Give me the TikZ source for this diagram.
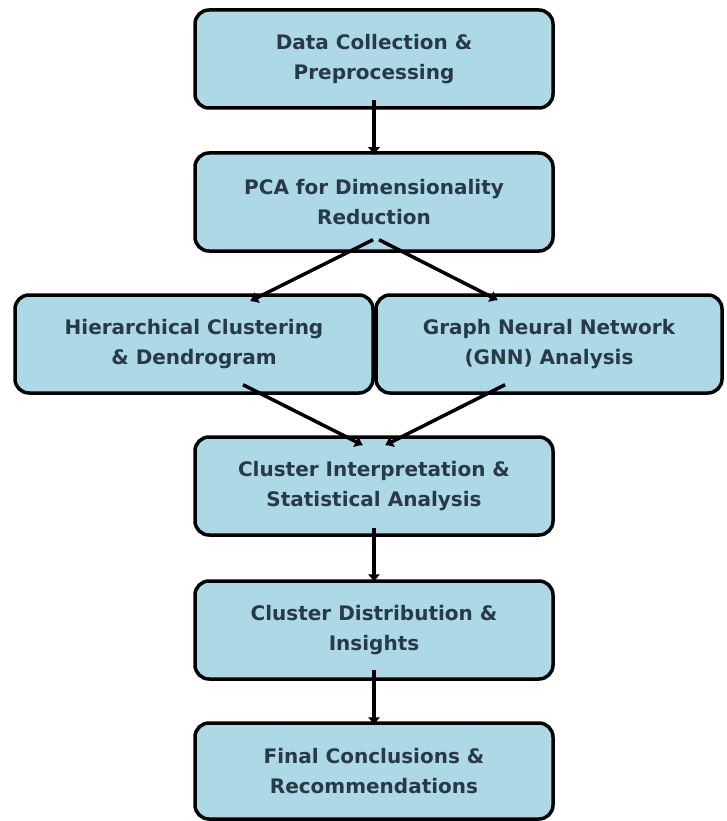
\documentclass[tikz,border=0pt]{standalone}
\usepackage{fontspec}
\setmainfont{DejaVu Sans}
\usetikzlibrary{arrows.meta}
\definecolor{boxfill}{HTML}{ADD8E6}
\definecolor{txtc}{HTML}{283A45}
\begin{document}
\begin{tikzpicture}[x=1pt,y=-1pt,
  stepbox/.style={draw=black, line width=3.5pt, fill=boxfill, rounded corners=14pt,
    minimum height=98pt, inner sep=0pt, align=center, text=txtc,
    font=\fontsize{20}{30}\selectfont\bfseries},
  conn/.style={line width=3.5pt, -{Latex[length=8pt,width=13pt]}}]
\useasboundingbox[fill=white] (0,0) rectangle (726,821);
\node[stepbox, minimum width=358pt] (b1) at (374,59) {Data Collection \&\\Preprocessing};
\node[stepbox, minimum width=358pt] (b2) at (374,202) {PCA for Dimensionality\\Reduction};
\node[stepbox, minimum width=358pt] (b3) at (194,344) {Hierarchical Clustering\\\& Dendrogram};
\node[stepbox, minimum width=346pt] (b4) at (549,344) {Graph Neural Network\\(GNN) Analysis};
\node[stepbox, minimum width=358pt] (b5) at (374,486) {Cluster Interpretation \&\\Statistical Analysis};
\node[stepbox, minimum width=358pt] (b6) at (374,630) {Cluster Distribution \&\\Insights};
\node[stepbox, minimum width=358pt, minimum height=96pt] (b7) at (374,771) {Final Conclusions \&\\Recommendations};
\draw[conn] ([yshift=10pt]b1.south) -- ([yshift=-4pt]b2.north);
\draw[conn] ([xshift=-1pt,yshift=13pt]b2.south) -- ([xshift=56pt,yshift=-8pt]b3.north);
\draw[conn] ([xshift=5pt,yshift=13pt]b2.south) -- ([xshift=-51pt,yshift=-7pt]b4.north);
\draw[conn] ([xshift=49pt,yshift=10pt]b3.south) -- ([xshift=-11pt,yshift=-10pt]b5.north);
\draw[conn] ([xshift=-44pt,yshift=10pt]b4.south) -- ([xshift=11pt,yshift=-10pt]b5.north);
\draw[conn] ([yshift=9pt]b5.south) -- ([yshift=-3pt]b6.north);
\draw[conn] ([yshift=11pt]b6.south) -- ([yshift=-4pt]b7.north);
\end{tikzpicture}
\end{document}
